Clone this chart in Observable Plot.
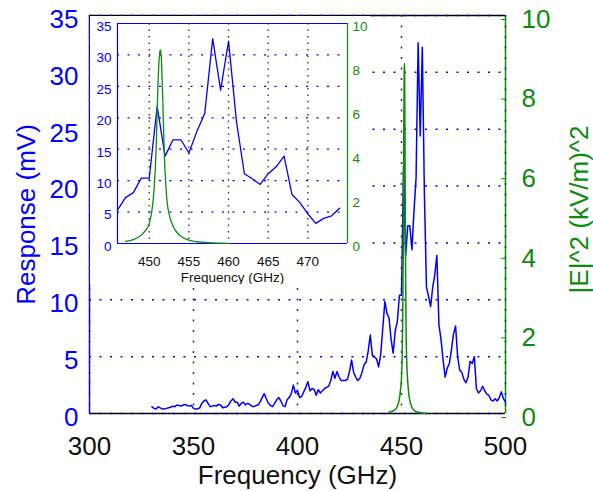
<!DOCTYPE html>
<html>
<head>
<meta charset="utf-8">
<script src="https://cdn.jsdelivr.net/npm/d3@7"></script>
<script src="https://cdn.jsdelivr.net/npm/@observablehq/plot@0.6"></script>
<style>
  body { margin: 0; background: white; }
  #chart { position: relative; width: 593px; height: 491px; overflow: hidden; }
  #chart svg { position: absolute; }
</style>
</head>
<body>
<div id="chart"></div>
<script>
// ---------- data ----------
const responseStartGHz = 330;   // first sample, 1 GHz steps
const responseMV = [
  0.6, 0.45, 0.4, 0.6, 0.5, 0.4, 0.4, 0.45, 0.5, 0.55,      // 330-339
  0.65, 0.6, 0.75, 0.7, 0.65, 0.75, 0.8, 0.7, 0.65, 0.7,    // 340-349
  0.45, 0.4, 0.4, 0.5, 0.9, 1.1, 1.2, 0.9, 0.6, 0.65,       // 350-359
  0.7, 0.65, 0.8, 0.75, 0.5, 0.55, 0.6, 0.8, 1.1, 1.3,      // 360-369
  1.0, 1.0, 0.65, 0.9, 1.0, 0.75, 0.9, 0.8, 0.65, 0.6,      // 370-379
  0.7, 0.75, 1.0, 1.4, 1.75, 1.3, 0.9, 0.7, 0.6, 0.9,       // 380-389
  1.2, 1.4, 1.1, 0.7, 0.6, 1.2, 1.4, 1.75, 2.5, 1.8,        // 390-399
  2.05, 1.4, 1.5, 1.9, 2.3, 2.8, 2.0, 2.2, 2.1, 1.6,        // 400-409
  2.1, 1.8, 2.0, 2.2, 2.3, 2.4, 2.9, 3.7, 3.1, 3.7,         // 410-419
  3.2, 2.9, 2.9, 2.9, 3.0, 3.7, 4.7, 3.6, 3.2, 2.9,         // 420-429
  3.1, 3.6, 4.3, 4.5, 5.5, 6.9, 5.1, 5.0, 4.8, 4.1,         // 430-439
  5.2, 7.5, 9.85, 8.8, 8.4, 6.5, 5.3, 7.3, 8.1, 10.4,       // 440-449
  10.4, 21.8, 13.9, 16.5, 16.5, 14.4, 17.8, 20.7, 32.6, 24.4, // 450-459
  32.2, 19.4, 11.1, 10.3, 9.4, 11.1, 12.2, 13.9, 7.8, 6.5,  // 460-469
  4.7, 3.2, 4.0, 4.4, 5.6, 7.0, 7.7, 5.0, 3.8, 3.6,         // 470-479
  3.0, 2.7, 3.2, 4.6, 4.4, 5.0, 2.2, 1.8, 2.0, 2.4,         // 480-489
  2.0, 1.7, 1.6, 1.2, 1.1, 1.3, 1.1, 1.4, 1.9, 1.3, 1.0     // 490-500
];
const fieldFreqGHz = [444, 446, 447, 448, 449, 449.5, 450, 450.3, 450.6, 450.9, 451.1, 451.3, 451.4,
  451.5, 451.7, 451.9, 452.2, 452.6, 453, 453.5, 454, 455, 456, 457, 458, 460, 462];
const fieldE2 = [0.03, 0.07, 0.1, 0.18, 0.38, 0.58, 0.9, 1.4, 2.4, 4.6, 7.2, 8.6, 8.8,
  8.6, 6.6, 4.1, 2.1, 1.2, 0.8, 0.5, 0.33, 0.15, 0.08, 0.05, 0.03, 0.01, 0.0];

const freqTicks = [300, 350, 400, 450, 500];
const responseTicks = [0, 5, 10, 15, 20, 25, 30, 35];
const fieldTicks = [0, 2, 4, 6, 8, 10];
const insetFreqTicks = [450, 455, 460, 465, 470];
const mainDomain = [300, 500];
const insetDomain = [446, 475];
const insetRange = [446, 474];

// ---------- tables ----------
const response = responseMV.map((v, i) => ({f: responseStartGHz + i, v}));
const field = fieldFreqGHz.map((f, i) => ({f, v: fieldE2[i]}));
const responseInset = response.filter(d => d.f >= insetRange[0] && d.f <= insetRange[1]);
const fieldInset = field.filter(d => d.f >= 447 && d.f <= 460);

// ---------- styles ----------
const BLUE = "#0000ff";
const GREEN = "#0c8c0c";
const FONT = "'Liberation Sans', Arial, Helvetica, sans-serif";
const DOTS = "2,8.5";
const chart = document.getElementById("chart");
const centered = {textAnchor: "middle", lineAnchor: "middle"};

function place(svg, left, top) {
  svg.style.left = left + "px";
  svg.style.top = top + "px";
  chart.appendChild(svg);
}

const mainGeom = {width: 593, height: 491, marginLeft: 89, marginRight: 88, marginTop: 15, marginBottom: 78};

// main, left axis (response)
const mainBlue = Plot.plot({
  ...mainGeom,
  style: {fontFamily: FONT, fontSize: "26px", background: "white", color: "black"},
  x: {domain: mainDomain},
  y: {domain: [0, 35]},
  marks: [
    Plot.ruleY([0, 35], {stroke: "black", strokeWidth: 1.5}),
    Plot.ruleX([mainDomain[0]], {stroke: BLUE, strokeWidth: 1.5}),
    Plot.ruleX([mainDomain[1]], {stroke: GREEN, strokeWidth: 1.5}),
    Plot.ruleY(responseTicks, {stroke: BLUE, strokeWidth: 1.5, strokeDasharray: DOTS}),
    Plot.ruleX(freqTicks, {stroke: "#333", strokeWidth: 1.5, strokeDasharray: DOTS}),
    Plot.line(response, {x: "f", y: "v", stroke: BLUE, strokeWidth: 1.5}),
    Plot.axisY({ticks: responseTicks, anchor: "left", tickSize: 0, tickPadding: 11, color: BLUE, dy: 4, label: null}),
    Plot.axisX({ticks: freqTicks, anchor: "bottom", tickSize: 0, tickPadding: 23, color: "#111", label: null}),
    Plot.text(["Response (mV)"], {frameAnchor: "left", dx: -63, rotate: -90, fill: BLUE, fontSize: 26, ...centered}),
    Plot.text(["Frequency (GHz)"], {frameAnchor: "bottom", dy: 62, fill: "#111", fontSize: 26, ...centered})
  ]
});
place(mainBlue, 0, 0);

// main, right axis (field)
const mainGreen = Plot.plot({
  ...mainGeom,
  style: {fontFamily: FONT, fontSize: "26px", background: "transparent"},
  x: {domain: mainDomain, axis: null},
  y: {domain: [0, 10]},
  marks: [
    Plot.line(field, {x: "f", y: "v", stroke: GREEN, strokeWidth: 1.5, curve: "monotone-x"}),
    Plot.axisY({ticks: fieldTicks, anchor: "right", tickSize: -5, tickPadding: 21, color: GREEN, dy: 4, label: null}),
    Plot.text(["|E|^2 (kV/m)^2"], {frameAnchor: "right", dx: 74, dy: -5, rotate: -90, fill: GREEN, fontSize: 26, ...centered})
  ]
});
place(mainGreen, 0, 0);

const insetGeom = {width: 280, height: 268, marginLeft: 27, marginRight: 23, marginTop: 7, marginBottom: 41};

// inset, left axis
const insetBlue = Plot.plot({
  ...insetGeom,
  style: {fontFamily: FONT, fontSize: "13.5px", background: "white", color: "black"},
  x: {domain: insetDomain},
  y: {domain: [0, 35]},
  marks: [
    Plot.ruleY([0, 35], {stroke: BLUE, strokeWidth: 1.2}),
    Plot.ruleX([insetDomain[0]], {stroke: BLUE, strokeWidth: 1.2}),
    Plot.ruleX([insetDomain[1]], {stroke: GREEN, strokeWidth: 1.2}),
    Plot.ruleY(responseTicks.slice(1, -1), {stroke: BLUE, strokeWidth: 1.3, strokeDasharray: DOTS}),
    Plot.ruleX(insetFreqTicks, {stroke: "#333", strokeWidth: 1.3, strokeDasharray: "1.5,5"}),
    Plot.line(responseInset, {x: "f", y: "v", stroke: BLUE, strokeWidth: 1.3}),
    Plot.axisY({ticks: responseTicks, anchor: "left", tickSize: 0, tickPadding: 6, color: BLUE, dy: 3, label: null}),
    Plot.axisX({ticks: insetFreqTicks, anchor: "bottom", tickSize: 0, tickPadding: 13, color: "#111", label: null}),
    Plot.text(["Frequency (GHz)"], {frameAnchor: "bottom", dy: 34, fill: "#111", fontSize: 13.5, ...centered})
  ]
});
place(insetBlue, 90, 16);

// inset, right axis
const insetGreen = Plot.plot({
  ...insetGeom,
  style: {fontFamily: FONT, fontSize: "13.5px", background: "transparent"},
  x: {domain: insetDomain, axis: null},
  y: {domain: [0, 10]},
  marks: [
    Plot.line(fieldInset, {x: "f", y: "v", stroke: GREEN, strokeWidth: 1.3, curve: "monotone-x"}),
    Plot.axisY({ticks: fieldTicks, anchor: "right", tickSize: 0, tickPadding: 5, color: GREEN, dy: 3, label: null})
  ]
});
place(insetGreen, 90, 16);
</script>
</body>
</html>
